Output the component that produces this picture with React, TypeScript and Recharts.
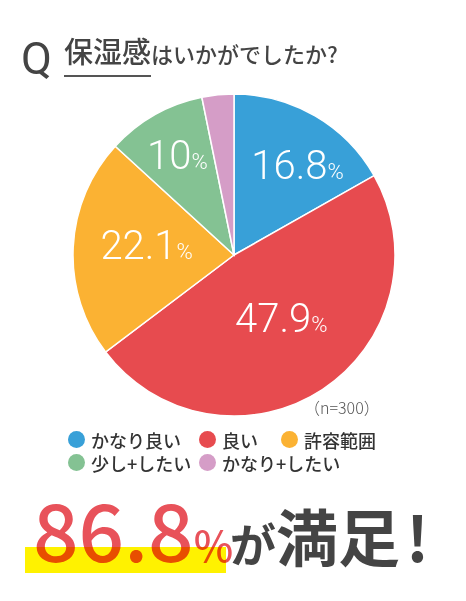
import React from 'react';
import { PieChart, Pie, Cell } from 'recharts';

document.body.style.margin = '0';

const categories = ['かなり良い', '良い', '許容範囲', '少し+したい', 'かなり+したい'];
const shares = [16.8, 47.9, 22.1, 10, 3.2];
const shownLabels = ['16.8', '47.9', '22.1', '10', ''];
const colors = ['#38A0D8', '#E74B4F', '#FBB233', '#84C293', '#D59DC7'];

// label placement tweaks (radius px, angle nudge deg)
const labelRadius = [110, 79, 88, 115, 0];
const labelNudge = [-5, 3.4, -4, 0, 0];

const chartData = categories.map((name, i) => ({ name, value: shares[i] }));

const RADIAN = Math.PI / 180;
const numFont = 'Roboto, "Noto Sans", sans-serif';
const jpFont = '"Noto Sans CJK JP", "Noto Sans", sans-serif';

function SliceLabel(props: any) {
  const { cx, cy, midAngle, index } = props;
  const text = shownLabels[index];
  if (!text) return null;
  const a = (midAngle + labelNudge[index]) * RADIAN;
  const r = labelRadius[index];
  const x = cx + r * Math.cos(-a);
  const y = cy + r * Math.sin(-a);
  return (
    <text
      x={x}
      y={y + 14}
      textAnchor="middle"
      fill="#fff"
      fontFamily={numFont}
      fontWeight={300}
      fontSize={40}
    >
      {text}
      <tspan fontSize={22}>%</tspan>
    </text>
  );
}

export default function App() {
  return (
    <div style={{ position: 'relative', width: 466, height: 601, background: '#fff', overflow: 'hidden' }}>
      {/* title */}
      <div
        style={{
          position: 'absolute',
          left: 21,
          top: 36,
          fontFamily: numFont,
          fontWeight: 400,
          fontSize: 45,
          color: '#444',
          lineHeight: 1,
        }}
      >
        Q
      </div>
      <div
        style={{
          position: 'absolute',
          left: 64,
          top: 36,
          fontFamily: jpFont,
          color: '#444',
          fontWeight: 500,
          whiteSpace: 'nowrap',
          lineHeight: 1,
        }}
      >
        <span style={{ fontSize: 29, borderBottom: '2px solid #555', paddingBottom: 4 }}>保湿感</span>
        <span style={{ fontSize: 22 }}>はいかがでしたか?</span>
      </div>

      <div style={{ position: 'absolute', left: 0, top: 0 }}>
        <PieChart width={466} height={601} margin={{ top: 0, right: 0, bottom: 0, left: 0 }}>
          <Pie
            data={chartData}
            dataKey="value"
            nameKey="name"
            cx={234}
            cy={255}
            outerRadius={161}
            startAngle={90}
            endAngle={-270}
            stroke="#fff"
            strokeWidth={1.5}
            labelLine={false}
            label={SliceLabel}
            isAnimationActive={false}
          >
            {chartData.map((d, i) => (
              <Cell key={d.name} fill={colors[i]} />
            ))}
          </Pie>
        </PieChart>
      </div>

      <div
        style={{
          position: 'absolute',
          left: 304,
          top: 399,
          fontFamily: jpFont,
          fontWeight: 300,
          fontSize: 16,
          color: '#555',
          lineHeight: 1,
        }}
      >
        （n=300）
      </div>

      {/* legend */}
      <div style={{ position: 'absolute', left: 68, top: 428, width: 380, fontFamily: jpFont, fontWeight: 500, color: '#333', fontSize: 18, lineHeight: 1 }}>
        {[[0, 1, 2], [3, 4]].map((row, ri) => (
          <div key={ri} style={{ display: 'flex', height: 23, alignItems: 'center' }}>
            {row.map((i) => (
              <div key={i} style={{ display: 'flex', alignItems: 'center', width: i % 3 === 0 ? 131 : i === 1 ? 82 : 160 }}>
                <span style={{ width: 17, height: 17, borderRadius: '50%', background: colors[i], marginRight: 6, flexShrink: 0 }} />
                <span style={{ whiteSpace: 'nowrap' }}>{categories[i]}</span>
              </div>
            ))}
          </div>
        ))}
      </div>

      {/* footer */}
      <svg width={466} height={141} style={{ position: 'absolute', left: 0, top: 460 }}>
        <rect x={25} y={87} width={201} height={26} fill="#FFF200" />
        <text x={33} y={102} fontFamily={jpFont} fontWeight={500} fill="#E8525A" style={{ mixBlendMode: 'multiply' }}>
          <tspan fontSize={80}>86.8</tspan>
          <tspan fontSize={42}>%</tspan>
        </text>
        <text x={230} y={102} fontFamily={jpFont} fontWeight={700} fill="#444">
          <tspan fontSize={46}>が</tspan>
          <tspan fontSize={62}>満足</tspan>
          <tspan fontSize={62} dx={6}>!</tspan>
        </text>
      </svg>
    </div>
  );
}
